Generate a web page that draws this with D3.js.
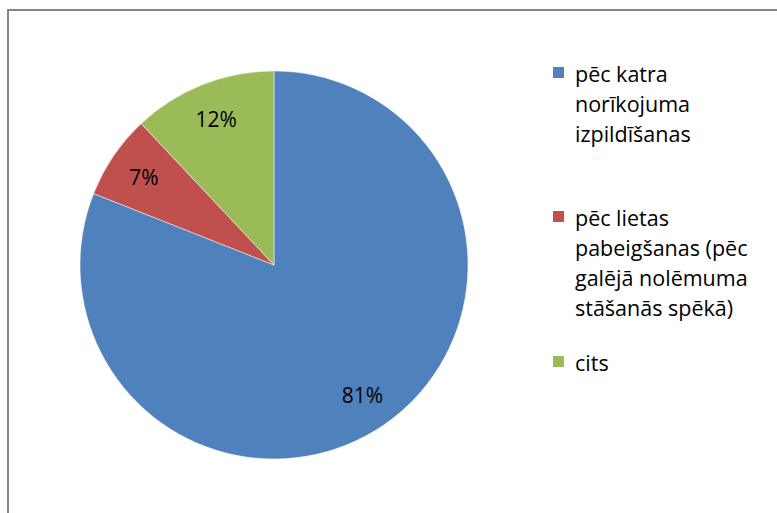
<!DOCTYPE html>
<html>
<head>
<meta charset="utf-8">
<script src="https://cdn.jsdelivr.net/npm/d3@7"></script>
<style>
  body { margin: 0; background: #fff; }
  svg text { font-family: "Open Sans", "Noto Sans", sans-serif; fill: #000; }
</style>
</head>
<body>
<svg id="chart" width="777" height="513"></svg>
<script>
// chart data
const categories = [
    'pēc katra norīkojuma izpildīšanas',
    'pēc lietas pabeigšanas (pēc galējā nolēmuma stāšanās spēkā)',
    'cits'
];
const values = [81, 7, 12];
const colors = ['#4F81BD', '#C0504D', '#9BBB59'];
// legend text as it wraps in the original
const legendLines = [
    ['pēc katra', 'norīkojuma', 'izpildīšanas'],
    ['pēc lietas', 'pabeigšanas (pēc', 'galējā nolēmuma', 'stāšanās spēkā)'],
    ['cits']
];

const svg = d3.select('#chart');

// outer frame (runs off the right and bottom of the picture)
svg.append('rect')
    .attr('x', 8)
    .attr('y', 10)
    .attr('width', 800)
    .attr('height', 540)
    .attr('fill', 'none')
    .attr('stroke', '#868686')
    .attr('stroke-width', 2);

const data = categories.map((c, i) => ({ name: c, value: values[i], color: colors[i] }));

const cx = 274, cy = 265, radius = 194;

const pie = d3.pie()
    .value(d => d.value)
    .sort(null);

const arc = d3.arc()
    .innerRadius(0)
    .outerRadius(radius);

const labelArc = d3.arc()
    .innerRadius(radius * 0.81)
    .outerRadius(radius * 0.81);

const g = svg.append('g')
    .attr('transform', `translate(${cx},${cy})`);

const slices = g.selectAll('.slice')
    .data(pie(data))
    .enter()
    .append('g')
    .attr('class', 'slice');

slices.append('path')
    .attr('d', arc)
    .attr('fill', d => d.data.color)
    .attr('stroke', '#fff')
    .attr('stroke-width', 0.5);

slices.append('text')
    .attr('transform', d => `translate(${labelArc.centroid(d)})`)
    .attr('text-anchor', 'middle')
    .attr('dominant-baseline', 'central')
    .attr('font-size', '21px')
    .text(d => d.data.value + '%');

// legend
const legendX = 553;
const groupTops = [73, 217, 362];
const lineGap = 30;

const legend = svg.append('g').attr('class', 'legend');

legendLines.forEach((lines, i) => {
    legend.append('rect')
        .attr('x', legendX)
        .attr('y', groupTops[i] - 6)
        .attr('width', 11)
        .attr('height', 11)
        .attr('fill', colors[i]);

    lines.forEach((line, j) => {
        legend.append('text')
            .attr('x', legendX + 22)
            .attr('y', groupTops[i] + j * lineGap)
            .attr('dominant-baseline', 'central')
            .attr('font-size', '21.5px')
            .text(line);
    });
});
</script>
</body>
</html>
